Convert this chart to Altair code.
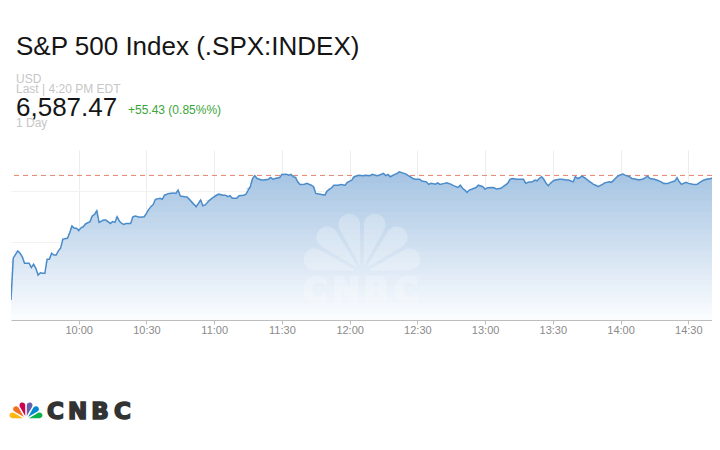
import altair as alt
import pandas as pd

# ---------------- data ----------------
times = ["09:30","09:31","09:33","09:34","09:35","09:36","09:38","09:39","09:40","09:41",
 "09:42","09:43","09:44","09:45","09:46","09:47","09:48","09:49","09:50","09:51",
 "09:52","09:53","09:55","09:56","09:57","09:58","09:59","10:00","10:01","10:02",
 "10:03","10:05","10:06","10:07","10:08","10:09","10:11","10:12","10:14","10:15",
 "10:16","10:17","10:18","10:19","10:20","10:21","10:23","10:24","10:25","10:27",
 "10:29","10:30","10:31","10:33","10:34","10:36","10:37","10:38","10:40","10:42",
 "10:43","10:44","10:45","10:47","10:48","10:50","10:52","10:53","10:54","10:55",
 "10:56","10:58","11:00","11:02","11:04","11:05","11:06","11:07","11:08","11:10",
 "11:11","11:13","11:14","11:16","11:17","11:18","11:19","11:21","11:22","11:24",
 "11:25","11:26","11:27","11:29","11:30","11:32","11:33","11:34","11:35","11:36",
 "11:37","11:38","11:40","11:41","11:43","11:44","11:45","11:47","11:49","11:50",
 "11:52","11:53","11:55","11:56","11:58","11:59","12:01","12:02","12:04","12:06",
 "12:07","12:09","12:10","12:12","12:13","12:15","12:16","12:17","12:18","12:20",
 "12:21","12:22","12:24","12:25","12:26","12:28","12:29","12:31","12:32","12:34",
 "12:35","12:36","12:38","12:39","12:40","12:42","12:43","12:45","12:46","12:48",
 "12:49","12:50","12:51","12:52","12:53","12:54","12:56","12:57","12:59","13:00",
 "13:01","13:03","13:04","13:05","13:07","13:08","13:10","13:11","13:12","13:14",
 "13:15","13:17","13:18","13:19","13:21","13:22","13:23","13:24","13:25","13:26",
 "13:27","13:28","13:30","13:31","13:33","13:34","13:36","13:37","13:39","13:40",
 "13:41","13:42","13:43","13:45","13:46","13:48","13:49","13:50","13:52","13:53",
 "13:55","13:56","13:58","13:59","14:01","14:02","14:04","14:05","14:07","14:08",
 "14:10","14:11","14:12","14:13","14:15","14:16","14:18","14:19","14:21","14:22",
 "14:24","14:25","14:26","14:27","14:29","14:30","14:32","14:33","14:34","14:36",
 "14:37","14:38","14:40","14:41","14:43","14:44"]

prices = [6527.4,6543.7,6546.5,6545.6,6544.2,6541.7,6541.7,6540.0,6541.3,6539.7,
 6537.1,6538.0,6537.8,6537.8,6543.3,6543.3,6545.6,6544.9,6544.9,6546.5,
 6547.7,6551.1,6551.4,6553.6,6556.2,6555.3,6555.3,6554.4,6555.5,6555.9,
 6557.0,6557.9,6560.1,6560.7,6562.1,6557.6,6558.5,6558.5,6557.2,6557.9,
 6557.6,6559.8,6558.1,6557.2,6556.8,6557.2,6557.2,6559.8,6560.1,6559.6,
 6559.8,6561.1,6562.7,6564.6,6566.6,6567.0,6566.6,6568.2,6568.9,6569.1,
 6568.9,6570.2,6567.9,6567.6,6567.5,6565.6,6563.7,6565.0,6566.3,6564.1,
 6564.4,6566.3,6567.6,6568.6,6568.2,6568.2,6567.6,6568.0,6567.0,6567.0,
 6568.0,6568.2,6568.5,6571.5,6574.7,6575.8,6574.7,6574.1,6574.1,6574.4,
 6575.1,6574.4,6574.7,6575.1,6576.3,6576.4,6576.0,6576.3,6575.4,6575.1,
 6573.4,6572.4,6572.5,6572.8,6572.1,6571.5,6568.9,6568.6,6568.2,6569.8,
 6571.1,6572.1,6572.1,6572.4,6572.1,6573.2,6574.1,6575.4,6576.0,6575.8,
 6576.0,6575.8,6576.3,6575.8,6576.0,6576.7,6575.8,6576.3,6575.4,6576.3,
 6576.7,6577.3,6576.7,6576.4,6575.8,6574.7,6574.4,6574.4,6573.7,6573.4,
 6572.4,6572.8,6572.5,6573.0,6572.4,6572.8,6573.0,6572.4,6571.9,6571.2,
 6572.1,6570.9,6570.2,6569.3,6570.2,6570.5,6571.2,6572.1,6571.5,6570.5,
 6571.1,6571.2,6571.1,6570.6,6570.9,6571.5,6572.8,6574.4,6574.7,6574.4,
 6574.4,6574.4,6572.8,6573.2,6573.4,6574.1,6573.8,6574.7,6575.4,6574.4,
 6572.8,6571.9,6573.7,6574.1,6574.4,6574.4,6574.1,6574.1,6573.4,6575.4,
 6574.7,6575.1,6575.6,6574.4,6573.7,6572.4,6572.1,6571.5,6572.4,6573.0,
 6573.4,6573.2,6575.0,6575.8,6576.4,6576.0,6575.4,6574.7,6574.4,6574.1,
 6574.5,6575.0,6575.6,6574.7,6574.4,6574.1,6573.4,6572.8,6572.8,6573.2,
 6573.7,6575.0,6573.4,6572.4,6573.2,6572.8,6572.5,6572.4,6572.5,6573.7,
 6574.1,6574.4,6574.7,6575.0,6575.1,6575.2]

tick_times = ["10:00","10:30","11:00","11:30","12:00","12:30","13:00","13:30","14:00","14:30"]
grid_values = [6530, 6540, 6550, 6560, 6570, 6580]
reference_level = 6575.9
y_domain = [6519.6, 6585.8]
x_start, x_end = (9, 30, 0), (14, 40, 30)

title_text = "S&P 500 Index (.SPX:INDEX)"
currency = "USD"
last_text = "Last | 4:20 PM EDT"
last_price = "6,587.47"
change_text = "+55.43 (0.85%%)"
range_text = "1 Day"
brand_letters = ["C", "N", "B", "C"]
fan_colors = ["#fcb711", "#f37021", "#cc004c", "#6460aa", "#0089d0", "#0db14b"]

DAY = "2025-09-22T"

def dt(h, m, s=0):
    return alt.DateTime(year=2025, month=9, date=22, hours=h, minutes=m, seconds=s, utc=True)

def dts(hhmm):
    h, m = hhmm.split(":")
    return dt(int(h), int(m))

stamps = [DAY + t + ":00Z" for t in times]
df = pd.DataFrame({"t": stamps, "price": prices})

# vertical colour fade under the line, drawn as thin stacked bands
GRAD_TOP = (164, 195, 226)
GRAD_BOT = (252, 253, 255)
N_BANDS = 26
top_lvl = max(prices)
bot_lvl = y_domain[0]
rows = []
for k in range(N_BANDS):
    b_top = top_lvl - (top_lvl - bot_lvl) * k / N_BANDS
    b_bot = top_lvl - (top_lvl - bot_lvl) * (k + 1) / N_BANDS
    f = (k + 0.5) / N_BANDS
    col = "#%02x%02x%02x" % tuple(round(a + (b - a) * f) for a, b in zip(GRAD_TOP, GRAD_BOT))
    if k == 0:
        b_top = y_domain[1]
    y2v = b_bot - 0.35 if k < N_BANDS - 1 else b_bot
    for s, p in zip(stamps, prices):
        rows.append({"t": s, "y": min(max(p, b_bot), b_top), "y2": y2v if p > b_bot else b_bot,
                     "k": k, "col": col})
bands = pd.DataFrame(rows)

FONT = "Liberation Sans"

x_enc = alt.X("t:T",
              scale=alt.Scale(type="utc", domain=[dt(*x_start), dt(*x_end)]),
              axis=alt.Axis(format="%H:%M", values=[dts(t) for t in tick_times],
                            grid=True, gridColor="#ededed", gridWidth=1,
                            domainColor="#bdbdbd", tickColor="#bdbdbd", tickSize=4,
                            labelColor="#8a8a8a", labelFont=FONT, labelFontSize=11,
                            labelPadding=0, title=None))
y_axis = alt.Axis(values=grid_values, grid=True, gridColor="#f2f2f2",
                  labels=False, ticks=False, domain=False, title=None)
y_scale = alt.Scale(domain=y_domain, zero=False, nice=False)

area = alt.Chart(bands).mark_area(clip=True, interpolate="linear").encode(
    x=x_enc,
    y=alt.Y("y:Q", stack=None, scale=y_scale, axis=y_axis),
    y2="y2:Q",
    color=alt.Color("col:N", scale=None),
    detail="k:N",
    order=alt.Order("k:Q"),
)
line = alt.Chart(df).mark_line(color="#4a8bc9", strokeWidth=1.5, clip=True).encode(
    x="t:T", y=alt.Y("price:Q", scale=y_scale))

ref = alt.Chart(pd.DataFrame({"v": [reference_level]})).mark_rule(
    color="#e4856d", strokeDash=[5, 4], strokeWidth=1).encode(y=alt.Y("v:Q", scale=y_scale))

one = alt.Data(values=[{}])

def txt(s, x, y, size, color, weight="normal", font=FONT, opacity=1.0, align="left", stroke=None, sw=0):
    kw = dict(text=s, fontSize=size, color=color, fontWeight=weight, font=font,
              align=align, baseline="alphabetic", opacity=opacity)
    if stroke:
        kw.update(stroke=stroke, strokeWidth=sw)
    return alt.Chart(one).mark_text(**kw).encode(x=alt.value(x), y=alt.value(y))

texts = [
    txt(title_text, 5, -95, 26, "#151515"),
    txt(currency, 5, -67, 12, "#c6c6c6"),
    txt(last_text, 5, -57.5, 12, "#c6c6c6"),
    txt(last_price, 5, -34.5, 26, "#151515"),
    txt(change_text, 117, -35.7, 12, "#3aa53a"),
    txt(range_text, 5, -23.5, 12, "#c6c6c6"),
]

fan_df = pd.DataFrame({"i": list(range(6)), "w": [1] * 6, "c": fan_colors})
theta_enc = alt.Theta("w:Q", stack=True, scale=alt.Scale(range=[-1.5708, 1.5708]))

water_fan = alt.Chart(fan_df).mark_arc(
    radius=60, innerRadius=6, cornerRadius=14, padAngle=0.07, color="white", opacity=0.25
).encode(theta=theta_enc, order=alt.Order("i:Q"), x=alt.value(351), y=alt.value(122))

water_letters = [txt(l, xx, 152, 33, "white", "bold", "DejaVu Sans", 0.25, "center", "white", 2.5)
                 for l, xx in zip(brand_letters, [304, 335, 365, 395])]

logo_fan = alt.Chart(fan_df).mark_arc(
    radius=17, innerRadius=3, cornerRadius=4, padAngle=0.09
).encode(theta=theta_enc, order=alt.Order("i:Q"),
         color=alt.Color("c:N", scale=None), x=alt.value(15), y=alt.value(269))

logo_letters = [txt(l, xx, 268.5, 23, "#333333", "bold", "DejaVu Sans", 1.0, "center", "#333333", 1.6)
                for l, xx in zip(brand_letters, [44.5, 66.5, 89, 111.5])]

chart = alt.layer(
    ref, area, line, water_fan, *water_letters, logo_fan, *logo_letters, *texts
).properties(
    width=701, height=170,
    padding={"left": 3, "top": 142, "right": 0, "bottom": 110},
    autosize="none", background="white"
).configure_view(stroke=None)

chart.save("out.html", embed_options={"renderer": "svg", "actions": False})
